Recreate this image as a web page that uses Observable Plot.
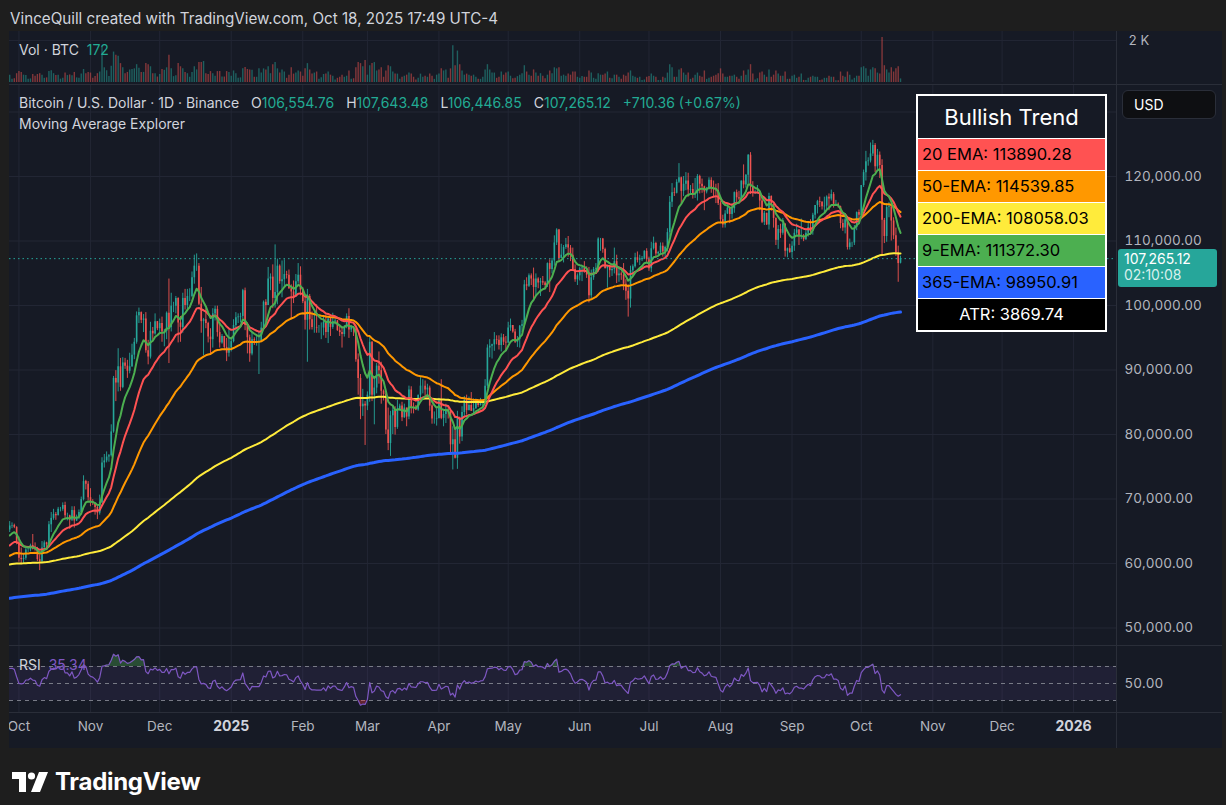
<!DOCTYPE html>
<html><head><meta charset="utf-8">
<script src="https://cdn.jsdelivr.net/npm/d3@7"></script>
<script src="https://cdn.jsdelivr.net/npm/@observablehq/plot@0.6"></script>
<style>
html,body{margin:0;padding:0;background:#1e1e1e;}
#root{position:relative;width:1226px;height:805px;overflow:hidden;background:#1e1e1e;font-family:Inter,"Noto Sans",sans-serif;}
.abs{position:absolute;white-space:nowrap;}
#chartbg{left:9px;top:31px;width:1213px;height:717px;background:#161a25;}
.sep{background:#2a2e39;}
.pane svg{display:block;overflow:hidden;}
.lbl{color:#d1d4dc;font-size:14px;line-height:18px;}
.up{color:#22ab94;}
.gap{margin-left:12px;}
.row{height:31px;line-height:31px;border-top:1px solid #fff;font-size:16.5px;color:#000;padding-left:4px;}
</style></head>
<body><div id="root">
<div class="abs" style="left:10px;top:8px;color:#d1d4dc;font-size:15.2px;line-height:22px">VinceQuill created with TradingView.com, Oct 18, 2025 17:49 UTC-4</div>
<div id="chartbg" class="abs"></div>
<div id="volPane" class="abs pane" style="left:9px;top:31px"></div>
<div id="mainPane" class="abs pane" style="left:9px;top:84px"></div>
<div id="rsiPane" class="abs pane" style="left:9px;top:645px"></div>
<div class="abs sep" style="left:9px;top:84px;width:1213px;height:1px"></div>
<div class="abs sep" style="left:9px;top:645px;width:1213px;height:1px"></div>
<div class="abs sep" style="left:9px;top:712px;width:1213px;height:1px"></div>
<div class="abs sep" style="left:1116px;top:31px;width:1px;height:717px"></div>
<div class="abs lbl" style="left:19px;top:41px">Vol · BTC&nbsp;&nbsp;<span class="up" id="volTxt"></span></div>
<div class="abs lbl" style="left:19px;top:94px" id="ohlcTxt"></div>
<div class="abs lbl" style="left:19px;top:115px">Moving Average Explorer</div>
<div class="abs lbl" style="left:19px;top:656px">RSI&nbsp;&nbsp;<span style="color:#7e57c2" id="rsiTxt"></span></div>
<div id="tbl" class="abs" style="left:916px;top:94px;width:187px;border:2px solid #fff;background:#161a25"></div>
<div class="abs" style="left:1122px;top:90px;width:94px;height:29px;background:#0e0f12;border:1px solid #2a2e39;border-radius:6px;color:#fff;font-size:14px;line-height:27px;padding-left:11px;box-sizing:border-box">USD</div>
<div id="priceBox" class="abs" style="left:1118px;width:99px;height:38px;background:#26a69a;border-radius:3px;color:#fff;font-size:14px;line-height:16px;padding:2px 0 0 6px;box-sizing:border-box"></div>
<svg class="abs" style="left:12px;top:772px" width="38" height="21" viewBox="0 0 38 21"><path d="M0 0H14V20H7V7H0Z" fill="#fff"/><circle cx="19.5" cy="4" r="3.6" fill="#fff"/><path d="M27 0H36L28 20H19Z" fill="#fff"/></svg>
<div class="abs" style="left:55px;top:767px;color:#fff;font-size:24px;font-weight:700;line-height:30px;letter-spacing:-0.3px">TradingView</div>
</div>
<script>
// ---------- data (daily bars, BTC/USD, thousands of USD) ----------
const firstDay = "2024-09-27";
const firstOpen = 65.2;
const close = [
 65.8,65.9,65.6,63.3,
 60.8,60.6,60.8,62.1,62.1,62.8,62.2,62.1,60.6,60.3,62.4,63.2,62.9,66.0,67.0,67.6,67.4,68.4,68.4,69.0,67.4,67.4,66.7,68.2,66.6,67.0,67.9,69.9,72.7,72.3,70.2,
 69.5,69.3,68.7,67.8,69.4,75.6,75.9,76.5,76.7,80.4,88.7,88.0,90.5,87.3,91.1,90.6,89.8,90.5,92.3,94.3,98.4,98.9,97.7,97.9,93.0,92.0,96.0,95.6,97.5,96.4,
 97.2,95.9,96.0,98.8,96.6,99.9,99.9,101.1,97.3,96.6,101.1,100.0,101.4,101.4,104.3,106.1,106.1,100.2,97.5,97.8,97.2,95.1,94.7,98.7,99.4,95.8,94.2,95.2,93.5,92.6,93.4,
 94.4,96.9,98.1,98.2,98.3,102.3,96.9,95.0,92.5,94.7,94.5,94.5,94.5,96.5,100.5,100.0,104.1,104.4,101.1,102.0,106.1,103.7,104.0,104.8,104.7,102.6,102.1,101.3,103.7,104.7,102.4,
 100.6,97.7,101.4,97.8,96.6,96.6,96.5,96.5,96.5,97.4,95.8,97.9,96.6,97.5,97.6,96.1,95.8,95.5,96.7,98.3,96.2,96.6,96.3,91.6,88.7,84.3,84.7,84.4,
 86.1,94.3,86.1,87.2,90.6,89.9,86.7,86.2,80.7,78.6,82.9,83.7,81.1,84.0,84.4,82.6,84.1,82.7,86.9,84.2,84.1,83.8,86.1,87.5,87.5,86.9,87.2,84.4,82.4,82.4,82.5,
 85.2,82.5,83.1,83.8,83.5,78.4,79.2,76.3,82.6,79.6,83.4,85.3,83.7,84.5,83.6,84.0,85.0,84.5,85.1,85.2,87.5,93.4,93.7,93.9,94.7,94.6,93.8,95.0,94.3,94.2,
 96.5,96.9,95.9,94.3,94.7,96.8,97.0,103.2,103.0,104.6,104.1,102.8,104.1,103.5,103.7,103.5,103.1,106.5,105.6,106.9,109.7,111.7,107.3,107.8,109.0,109.4,108.9,107.8,105.6,104.0,104.6,
 105.7,105.8,105.4,104.7,101.5,104.3,105.6,105.7,110.3,110.3,108.7,105.7,106.1,105.4,105.6,106.8,104.6,104.9,104.7,103.3,102.2,101.0,105.4,106.0,107.4,107.0,107.1,107.3,108.4,107.1,
 105.7,108.8,109.6,108.0,108.2,109.2,108.3,109.0,111.3,116.0,117.5,117.4,119.1,119.8,117.7,118.8,119.3,117.9,118.0,117.3,117.4,120.0,118.8,118.4,117.6,118.0,119.4,118.1,117.9,117.8,115.8,
 113.3,112.5,114.2,115.1,114.1,115.0,117.5,116.7,116.5,119.3,118.7,120.2,123.3,118.4,117.4,117.4,117.5,116.2,112.9,114.3,112.5,116.9,115.4,113.5,110.1,111.8,111.2,112.6,108.4,108.8,108.2,
 109.2,111.2,111.7,110.7,110.7,110.2,111.2,112.1,111.5,114.0,115.5,116.1,116.0,115.3,115.4,116.8,116.5,117.2,115.7,115.7,115.3,112.7,112.0,113.3,109.0,109.7,109.7,112.1,114.4,114.0,
 118.6,120.6,122.3,122.4,123.5,124.8,121.5,123.3,121.7,113.2,110.7,115.2,115.3,113.1,110.8,108.2,106.5,107.265
];
const high = [
 66.5,66.3,66.1,65.7,
 64.1,62.4,61.5,62.5,62.4,63.0,64.5,63.2,62.5,61.3,63.4,63.5,63.3,66.5,67.9,68.4,67.9,68.7,68.7,69.4,69.5,67.8,67.5,68.8,68.8,67.5,68.3,70.3,73.6,72.9,72.7,
 71.6,69.9,69.4,69.0,70.6,76.4,76.9,77.3,76.9,81.5,89.0,89.9,93.3,91.8,91.9,91.8,91.5,92.6,94.0,94.9,99.0,99.6,99.0,98.6,98.9,94.6,97.4,96.6,98.7,97.5,
 97.9,98.2,96.3,99.0,104.1,101.9,100.5,101.4,101.2,98.3,101.9,102.5,102.5,102.6,105.2,107.8,108.0,106.5,102.8,98.0,99.5,97.4,96.4,99.5,99.9,99.9,97.3,95.5,95.2,94.9,96.2,
 94.9,97.8,98.9,98.7,98.8,102.5,102.7,97.3,95.4,95.9,95.0,95.4,95.9,97.4,100.7,100.9,105.9,104.9,106.3,109.4,107.2,106.3,106.9,107.1,105.3,105.5,103.2,103.8,104.8,106.5,106.0,
 102.8,101.5,102.5,101.7,99.0,99.0,100.1,96.9,97.3,98.3,98.5,98.1,98.0,98.8,97.9,97.7,97.0,96.7,96.9,98.7,99.5,96.9,96.6,96.5,92.5,89.3,87.0,85.1,
 86.6,95.0,94.4,88.9,91.0,92.8,91.2,86.9,86.5,84.1,83.6,84.4,84.3,85.3,84.7,85.0,84.7,84.1,87.5,87.4,84.9,84.5,86.1,88.8,88.5,88.3,87.8,87.5,84.6,83.5,83.9,
 85.6,88.5,83.9,84.7,84.2,83.8,81.2,80.8,83.6,82.7,84.3,85.9,86.1,85.8,86.5,85.5,85.5,85.3,85.6,85.3,88.5,93.9,94.7,94.0,95.8,95.3,95.3,95.6,95.5,95.2,
 97.4,97.9,96.9,96.3,95.2,96.9,97.7,103.9,104.3,104.9,104.9,105.8,104.9,104.3,104.2,104.5,103.7,106.6,107.1,107.3,110.8,111.9,111.8,109.5,109.3,110.4,110.7,109.3,108.9,106.3,104.9,
 105.9,105.9,106.8,106.0,105.9,105.5,105.9,106.5,110.5,110.4,110.4,108.9,106.2,106.2,106.1,108.9,107.8,105.6,105.2,106.5,104.0,103.2,106.1,106.3,108.1,108.3,107.8,107.6,108.5,108.8,
 107.5,109.8,110.6,109.8,108.4,109.7,109.7,109.2,111.9,116.9,118.9,118.2,119.5,122.0,119.9,120.0,120.6,120.5,118.6,118.9,119.7,120.3,120.2,119.6,118.5,118.3,119.8,119.8,119.3,118.8,118.9,
 116.1,114.0,114.7,115.7,115.1,115.7,117.6,117.9,117.7,119.3,121.8,120.3,123.4,123.7,119.2,117.9,118.6,117.6,116.8,114.6,114.3,117.4,117.0,115.7,113.6,112.4,112.6,113.5,112.7,108.9,109.5,
 109.9,111.8,112.6,111.8,113.4,111.0,111.6,112.9,113.3,114.3,115.5,116.3,116.8,116.1,116.8,117.0,117.3,117.9,117.5,116.3,115.9,115.4,113.3,114.0,113.5,110.3,109.8,112.4,114.5,114.8,
 118.6,121.0,123.9,122.9,125.2,125.6,125.1,124.2,123.8,122.6,113.5,115.8,116.0,115.8,113.6,112.0,109.2,107.64
];
const low = [
 64.8,65.4,65.4,62.9,
 60.2,59.8,59.9,60.5,61.7,61.8,62.1,61.9,60.3,58.9,60.1,62.4,62.0,62.4,64.8,66.7,66.7,67.4,68.0,68.1,66.8,66.6,65.3,66.5,65.5,66.5,66.8,67.5,69.7,71.4,69.7,
 68.8,69.0,67.5,66.8,67.5,69.3,74.8,75.6,75.7,76.5,80.2,85.1,86.6,86.7,87.1,90.1,88.7,89.4,90.4,91.6,94.0,97.2,97.2,95.8,92.6,90.8,91.7,94.6,95.4,96.1,
 95.7,94.3,93.6,94.7,91.0,95.9,98.9,98.7,94.2,94.3,95.7,99.3,99.2,100.6,101.2,103.3,105.3,100.0,95.7,92.2,96.4,94.2,92.4,93.4,97.6,95.1,93.4,94.0,93.0,91.3,92.0,
 92.8,94.2,96.0,97.2,97.3,97.9,96.1,92.5,91.2,92.2,93.8,93.7,89.3,94.3,96.5,97.3,100.0,102.3,99.5,99.6,100.1,103.3,101.2,102.8,104.1,102.5,97.8,100.3,101.3,103.3,101.5,
 100.3,96.2,91.2,96.2,96.2,95.7,95.7,95.7,94.7,95.3,94.9,94.1,95.2,96.3,97.0,96.0,95.2,93.4,95.1,96.4,94.9,95.8,95.2,91.2,86.1,82.3,82.8,78.3,
 83.7,85.0,85.1,81.5,86.3,87.8,84.7,85.2,80.0,77.5,76.6,80.0,79.9,80.8,83.6,82.0,82.5,81.2,82.3,83.2,83.2,83.7,83.6,85.5,86.3,85.9,85.8,83.6,81.6,81.6,81.3,
 82.4,82.3,81.2,81.7,82.4,77.2,74.5,76.2,74.6,78.5,78.9,82.8,83.0,83.7,83.6,83.1,83.9,84.2,84.4,83.9,85.1,87.1,91.9,91.7,92.9,93.9,93.1,92.8,93.8,92.9,
 94.1,96.0,95.7,94.1,93.5,93.4,95.8,96.9,102.3,102.8,103.1,100.7,101.4,102.6,101.4,103.1,102.6,102.8,102.0,104.9,106.1,109.3,106.8,107.3,106.6,108.7,107.5,106.8,105.3,103.6,103.1,
 103.8,103.7,105.0,104.2,100.4,101.1,103.9,104.9,105.1,108.4,108.1,105.7,102.7,104.3,104.5,104.9,103.4,103.6,103.9,102.3,100.8,98.2,99.6,104.6,105.8,106.6,106.2,106.8,107.2,106.7,
 105.3,105.1,108.6,107.3,107.8,107.8,107.5,107.4,108.3,110.6,115.2,116.9,117.3,118.9,115.7,116.9,117.8,116.8,117.3,116.5,116.6,116.2,117.3,117.4,114.7,117.3,117.9,117.4,116.9,115.8,115.5,
 112.7,112.0,112.0,114.1,112.7,113.4,114.3,115.9,116.3,116.5,118.1,118.2,118.9,117.2,116.8,117.2,117.3,114.7,112.7,112.4,112.4,111.7,114.6,112.0,109.3,108.7,110.4,110.9,107.5,107.4,108.1,
 107.3,108.4,110.9,109.3,110.2,109.9,110.1,110.6,110.9,110.9,113.4,114.2,115.2,114.8,114.4,114.8,114.7,116.2,115.1,115.4,115.1,111.9,111.5,111.1,108.6,108.6,109.0,109.3,111.6,112.6,
 113.9,118.3,119.3,121.6,122.1,123.1,120.6,121.1,119.7,107.7,109.6,109.8,113.6,110.0,110.2,107.6,103.6,106.45
];
const volume = [
 350,150,180,420,
 520,480,350,330,150,170,380,300,380,420,340,200,220,520,560,420,330,340,160,200,450,330,360,320,480,220,200,400,620,420,480,
 450,200,280,420,500,1650,700,560,280,780,1450,1300,1250,900,700,420,480,600,620,650,850,680,480,480,900,850,750,420,420,260,
 380,620,580,700,1300,650,280,320,900,750,650,480,420,250,480,750,600,950,950,1000,420,380,520,420,300,520,520,260,260,520,480,
 300,550,420,200,220,650,720,620,600,580,250,250,650,450,650,600,750,420,850,950,650,450,600,500,200,350,700,400,450,550,500,
 300,650,900,600,400,450,500,150,230,380,400,500,350,300,120,200,250,350,250,300,550,150,180,700,950,900,750,1050,
 350,800,900,950,550,600,700,250,550,800,750,500,400,400,150,250,300,350,450,400,250,120,200,400,250,300,250,400,300,150,350,
 400,650,550,600,200,650,1750,800,1500,850,550,350,400,350,300,350,250,150,150,250,600,850,600,450,450,200,250,500,350,450,
 500,300,180,200,280,350,420,800,500,350,300,600,450,300,420,300,180,350,550,420,700,650,700,300,350,300,400,350,500,500,250,
 200,280,250,250,550,450,200,150,420,350,350,400,500,200,180,350,350,250,150,350,300,450,550,300,250,200,250,100,120,250,
 280,400,300,250,100,100,250,200,450,850,700,250,250,600,650,450,350,450,150,200,350,450,300,250,550,150,200,250,300,350,420,
 650,400,250,250,300,300,350,250,150,300,550,350,600,850,400,120,180,450,500,350,250,600,250,350,550,400,300,300,500,150,150,
 300,350,200,250,400,100,100,200,250,300,250,250,100,120,200,200,300,250,250,80,80,500,300,250,500,350,120,200,300,300,
 700,750,650,300,600,700,650,450,400,2150,800,600,450,700,500,650,750,172
];
const lastOHLC = [106554.76, 107643.48, 106446.85, 107265.12];
const changeText = "+710.36 (+0.67%)";
const volText = "172";
const rsiText = "35.34";
const timerText = "02:10:08";
// EMA starting levels read at the first bar, and RSI starting averages
const emaPeriods = [365, 200, 50, 20, 9];
const emaStart   = [54600, 59850, 61200, 62800, 64350];
const emaColors  = ["#2962ff", "#ffeb3b", "#ff9800", "#ff5252", "#4caf50"];
const emaWidths  = [3, 2, 2, 2, 2];
const rsiStart = [900, 430];
// legend table
const tableNames  = ["20 EMA", "50-EMA", "200-EMA", "9-EMA", "365-EMA"];
const tableValues = ["113890.28", "114539.85", "108058.03", "111372.30", "98950.91"];
const tableColors = ["#ff5252", "#ff9800", "#ffeb3b", "#4caf50", "#2962ff"];
const atrValue = "3869.74";
// axes
const gridPrices = [50000, 60000, 70000, 80000, 90000, 100000, 110000, 120000, 130000];
const priceTicks = [50000, 60000, 70000, 80000, 90000, 100000, 110000, 120000];
const volTicks = [2000];
const rsiLevels = [30, 50, 70];
const tickDates = ["2024-10-01","2024-11-01","2024-12-01","2025-01-01","2025-02-01","2025-03-01","2025-04-01","2025-05-01","2025-06-01","2025-07-01","2025-08-01","2025-09-01","2025-10-01","2025-11-01","2025-12-01","2026-01-01"];
const tickLabels = ["Oct","Nov","Dec","2025","Feb","Mar","Apr","May","Jun","Jul","Aug","Sep","Oct","Nov","Dec","2026"];

// ---------- build ----------
const UP = "#26a69a", DN = "#ef5350", GRID = "#222634";
const t0 = Date.parse(firstDay + "T00:00:00Z");
const bars = close.map((c, i) => {
  const last = i === close.length - 1;
  return {
    date: new Date(t0 + i * 864e5),
    open: last ? lastOHLC[0] : (i ? close[i - 1] : firstOpen) * 1000,
    high: last ? lastOHLC[1] : high[i] * 1000,
    low: last ? lastOHLC[2] : low[i] * 1000,
    close: last ? lastOHLC[3] : c * 1000,
    vol: volume[i]
  };
});
bars.forEach(b => { b.col = b.close >= b.open ? UP : DN; b.vcol = b.close >= b.open ? "rgba(38,166,154,0.5)" : "rgba(239,83,80,0.5)"; });

function ema(n, start) {
  const a = 2 / (n + 1); let e = start;
  return bars.map((b, i) => { if (i) e += a * (b.close - e); return {date: b.date, v: e}; });
}
const emas = emaPeriods.map((n, k) => ema(n, emaStart[k]));
let ag = rsiStart[0], al = rsiStart[1];
const rsi = bars.map((b, i) => {
  if (i) { const ch = b.close - bars[i - 1].close; ag = (ag * 13 + Math.max(ch, 0)) / 14; al = (al * 13 + Math.max(-ch, 0)) / 14; }
  return {date: b.date, v: 100 - 100 / (1 + ag / al)};
});

const months = tickDates.map((d, i) => ({date: new Date(d + "T00:00:00Z"), label: tickLabels[i], year: /^\d{4}$/.test(tickLabels[i])}));
const xDomain = [new Date(Date.UTC(2024, 8, 26, 22)), new Date(Date.UTC(2026, 0, 19, 14))];
const W = 1213, MR = 106;
const base = {width: W, marginLeft: 0, marginRight: MR, marginTop: 0,
  style: {background: "transparent", color: "#b2b5be", fontFamily: "Inter, 'Noto Sans', sans-serif", fontSize: "13px"},
  color: {type: "identity"}};
const xOpt = {type: "utc", domain: xDomain, axis: null};
const fmtPrice = d3.format(",.2f");

const volPlot = Plot.plot({...base, height: 53, marginBottom: 2,
  x: xOpt, y: {domain: [0, 2430], axis: null},
  marks: [
    Plot.ruleX(months, {x: "date", stroke: GRID}),
    Plot.ruleY(volTicks, {stroke: GRID}),
    Plot.ruleX(bars, {x: "date", y1: 0, y2: "vol", stroke: "vcol", strokeWidth: 1.4}),
    Plot.axisY(volTicks, {anchor: "right", label: null, tickSize: 0, tickPadding: 12, tickFormat: d => d / 1000 + " K", fill: "#b2b5be", fontSize: 13})
  ]});
document.getElementById("volPane").append(volPlot);

const mainPlot = Plot.plot({...base, height: 561, marginBottom: 0,
  x: xOpt, y: {domain: [47287, 134264], axis: null},
  marks: [
    Plot.ruleX(months, {x: "date", stroke: GRID}),
    Plot.ruleY(gridPrices, {stroke: GRID}),
    Plot.axisY(priceTicks, {anchor: "right", label: null, tickSize: 0, tickPadding: 8, tickFormat: fmtPrice, fill: "#b2b5be", fontSize: 13.5}),
    Plot.ruleX(bars, {x: "date", y1: "low", y2: "high", stroke: "col", strokeWidth: 0.9}),
    Plot.ruleX(bars, {x: "date", y1: "open", y2: "close", stroke: "col", strokeWidth: 1.6}),
    ...emas.map((s, k) => Plot.line(s, {x: "date", y: "v", stroke: emaColors[k], strokeWidth: emaWidths[k], curve: "linear"})),
    Plot.ruleY([lastOHLC[3]], {stroke: UP, strokeDasharray: "1.5,3", strokeWidth: 1})
  ]});
document.getElementById("mainPane").append(mainPlot);

const rsiPlot = Plot.plot({...base, height: 103, marginBottom: 36,
  x: xOpt, y: {domain: [15.9, 94.7], axis: null},
  marks: [
    Plot.ruleX(months, {x: "date", stroke: GRID, y1: 15.9, y2: 94.7}),
    Plot.rect([rsiLevels], {x1: xDomain[0], x2: xDomain[1], y1: d => d[0], y2: d => d[2], fill: "rgba(126,87,194,0.1)"}),
    Plot.ruleY(rsiLevels, {stroke: "#787b86", strokeDasharray: "4,4", strokeWidth: 1}),
    Plot.areaY(rsi, {x: "date", y1: 70, y2: d => Math.max(70, d.v), fill: "rgba(76,175,80,0.35)"}),
    Plot.areaY(rsi, {x: "date", y1: 30, y2: d => Math.min(30, d.v), fill: "rgba(242,54,69,0.35)"}),
    Plot.line(rsi, {x: "date", y: "v", stroke: "#7e57c2", strokeWidth: 1.2}),
    Plot.axisY([50], {anchor: "right", label: null, tickSize: 0, tickPadding: 8, tickFormat: d => d.toFixed(2), fill: "#b2b5be", fontSize: 13.5}),
    Plot.text(months.filter(d => !d.year), {x: "date", text: "label", frameAnchor: "bottom", dy: 18, fill: "#b2b5be", fontSize: 13.5}),
    Plot.text(months.filter(d => d.year), {x: "date", text: "label", frameAnchor: "bottom", dy: 18, fill: "#d1d4dc", fontSize: 14, fontWeight: 700})
  ]});
document.getElementById("rsiPane").append(rsiPlot);

// ---------- text overlays ----------
const f2 = d3.format(",.2f");
document.getElementById("ohlcTxt").innerHTML =
  `Bitcoin / U.S. Dollar · 1D · Binance<span class="gap">O</span><span class="up">${f2(lastOHLC[0])}</span><span class="gap">H</span><span class="up">${f2(lastOHLC[1])}</span><span class="gap">L</span><span class="up">${f2(lastOHLC[2])}</span><span class="gap">C</span><span class="up">${f2(lastOHLC[3])}</span><span class="gap up">${changeText}</span>`;
document.getElementById("volTxt").textContent = volText;
document.getElementById("rsiTxt").textContent = rsiText;

const tbl = document.getElementById("tbl");
let html = `<div style="height:42px;line-height:42px;text-align:center;color:#fff;font-size:22px">Bullish Trend</div>`;
tableNames.forEach((n, i) => { html += `<div class="row" style="background:${tableColors[i]}">${n}: ${tableValues[i]}</div>`; });
html += `<div class="row" style="background:#000;color:#fff;text-align:center;padding-left:0">ATR: ${atrValue}</div>`;
tbl.innerHTML = html;

const py = 84 + mainPlot.scale("y").apply(lastOHLC[3]);
const pb = document.getElementById("priceBox");
pb.style.top = (py - 9) + "px";
pb.innerHTML = `<div>${f2(lastOHLC[3])}</div><div style="color:#d8f0ed">${timerText}</div>`;
</script>
</body></html>
